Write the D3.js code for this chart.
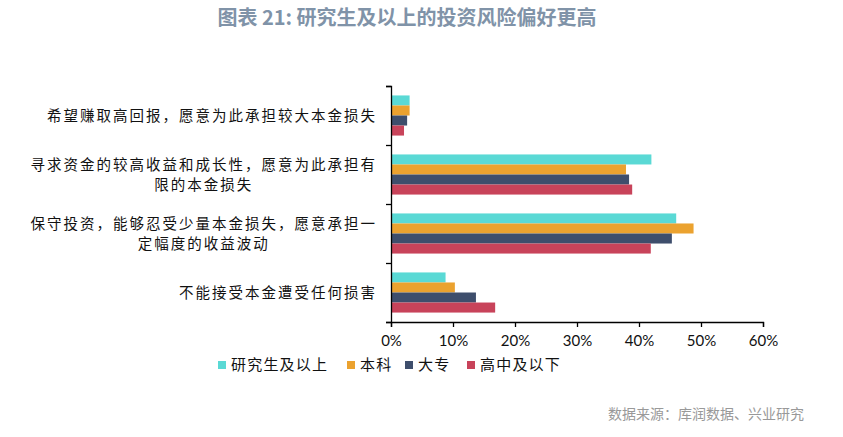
<!DOCTYPE html>
<html><head><meta charset="utf-8">
<script src="https://cdn.jsdelivr.net/npm/d3@7"></script>
<style>body{margin:0;background:#fff;}svg{display:block;}</style>
</head><body>
<svg id="c" width="843" height="437"></svg>
<script>
const categories = [
  ["希望赚取高回报，愿意为此承担较大本金损失"],
  ["寻求资金的较高收益和成长性，愿意为此承担有", "限的本金损失"],
  ["保守投资，能够忍受少量本金损失，愿意承担一", "定幅度的收益波动"],
  ["不能接受本金遭受任何损害"]
];
const seriesNames = ["研究生及以上", "本科", "大专", "高中及以下"];
const seriesColors = ["#5ad9d5", "#eba22f", "#3e4e6c", "#c8435a"];
const val_grad = [3.0, 42.0, 46.0, 8.8];
const val_bach = [3.0, 37.9, 48.8, 10.3];
const val_coll = [2.6, 38.4, 45.3, 13.7];
const val_high = [2.1, 38.9, 41.9, 16.8];
const seriesValues = [val_grad, val_bach, val_coll, val_high];
const xTicks = [0, 10, 20, 30, 40, 50, 60];
const title = "图表 21: 研究生及以上的投资风险偏好更高";
const source = "数据来源：库润数据、兴业研究";

(function () {
const svg = d3.select("#c");
const cjk = "'Noto Sans CJK SC', sans-serif";
const pL = 391, pR = 763, pT = 86, pB = 322;

const x = d3.scaleLinear().domain([0, 60]).range([pL, pR]);
const y = d3.scaleBand().domain(d3.range(categories.length)).range([pT, pB]).paddingInner(0.32).paddingOuter(0.16);
const ys = d3.scaleBand().domain(d3.range(seriesNames.length)).range([0, y.bandwidth()]);

svg.append("text").attr("x", 407).attr("y", 25).attr("text-anchor", "middle")
  .attr("font-family", cjk).attr("font-weight", "bold").attr("font-size", 20)
  .attr("fill", "#8093a8").text(title);

const g = svg.append("g");
categories.forEach((c, i) => {
  seriesValues.forEach((vals, s) => {
    g.append("rect").attr("x", x(0)).attr("y", y(i) + ys(s))
      .attr("width", x(vals[i]) - x(0)).attr("height", ys.bandwidth())
      .attr("fill", seriesColors[s]);
  });
});

const yAxisScale = d3.scaleLinear().domain([0, categories.length]).range([pT, pB]);
const yAx = svg.append("g").attr("transform", `translate(${pL},0)`)
  .call(d3.axisLeft(yAxisScale).tickValues(d3.range(categories.length + 1)).tickSize(5).tickFormat(""));
yAx.selectAll("path,line").attr("stroke", "#000").attr("stroke-width", 1.3);

const xAx = svg.append("g").attr("transform", `translate(0,${pB})`)
  .call(d3.axisBottom(x).tickValues(xTicks).tickSize(5).tickFormat(d => d + "%"));
xAx.select(".domain").attr("stroke", "#000").attr("stroke-width", 1.3);
xAx.selectAll("line").attr("stroke", "#000").attr("stroke-width", 1.3);
xAx.selectAll("text").attr("font-family", "Lato, sans-serif").attr("font-size", 15)
  .attr("fill", "#111").attr("dy", "1.05em");

const labelRight = 375, ls = 2;
categories.forEach((lines, i) => {
  const cy = y(i) + y.bandwidth() / 2;
  const lh = 20;
  const texts = lines.map((ln, k) => svg.append("text").attr("x", 0)
      .attr("y", cy + (k - (lines.length - 1) / 2) * lh)
      .attr("dy", "0.35em").attr("text-anchor", "start")
      .attr("font-family", cjk).attr("font-size", 14.5).attr("letter-spacing", ls)
      .attr("fill", "#111").text(ln));
  const widths = texts.map(t => t.node().getComputedTextLength() - ls);
  const W = d3.max(widths);
  texts.forEach((t, k) => t.attr("x", labelRight - W + (W - widths[k]) / 2));
});

const legX = [218, 347, 405, 467];
seriesNames.forEach((n, s) => {
  svg.append("rect").attr("x", legX[s]).attr("y", 361).attr("width", 8).attr("height", 8).attr("fill", seriesColors[s]);
  svg.append("text").attr("x", legX[s] + 13).attr("y", 365).attr("dy", "0.35em")
    .attr("font-family", cjk).attr("font-size", 15).attr("letter-spacing", 1.2).attr("fill", "#111").text(n);
});

svg.append("text").attr("x", 804).attr("y", 419).attr("text-anchor", "end")
  .attr("font-family", cjk).attr("font-size", 14).attr("fill", "#999").text(source);
})();
</script>
</body></html>
